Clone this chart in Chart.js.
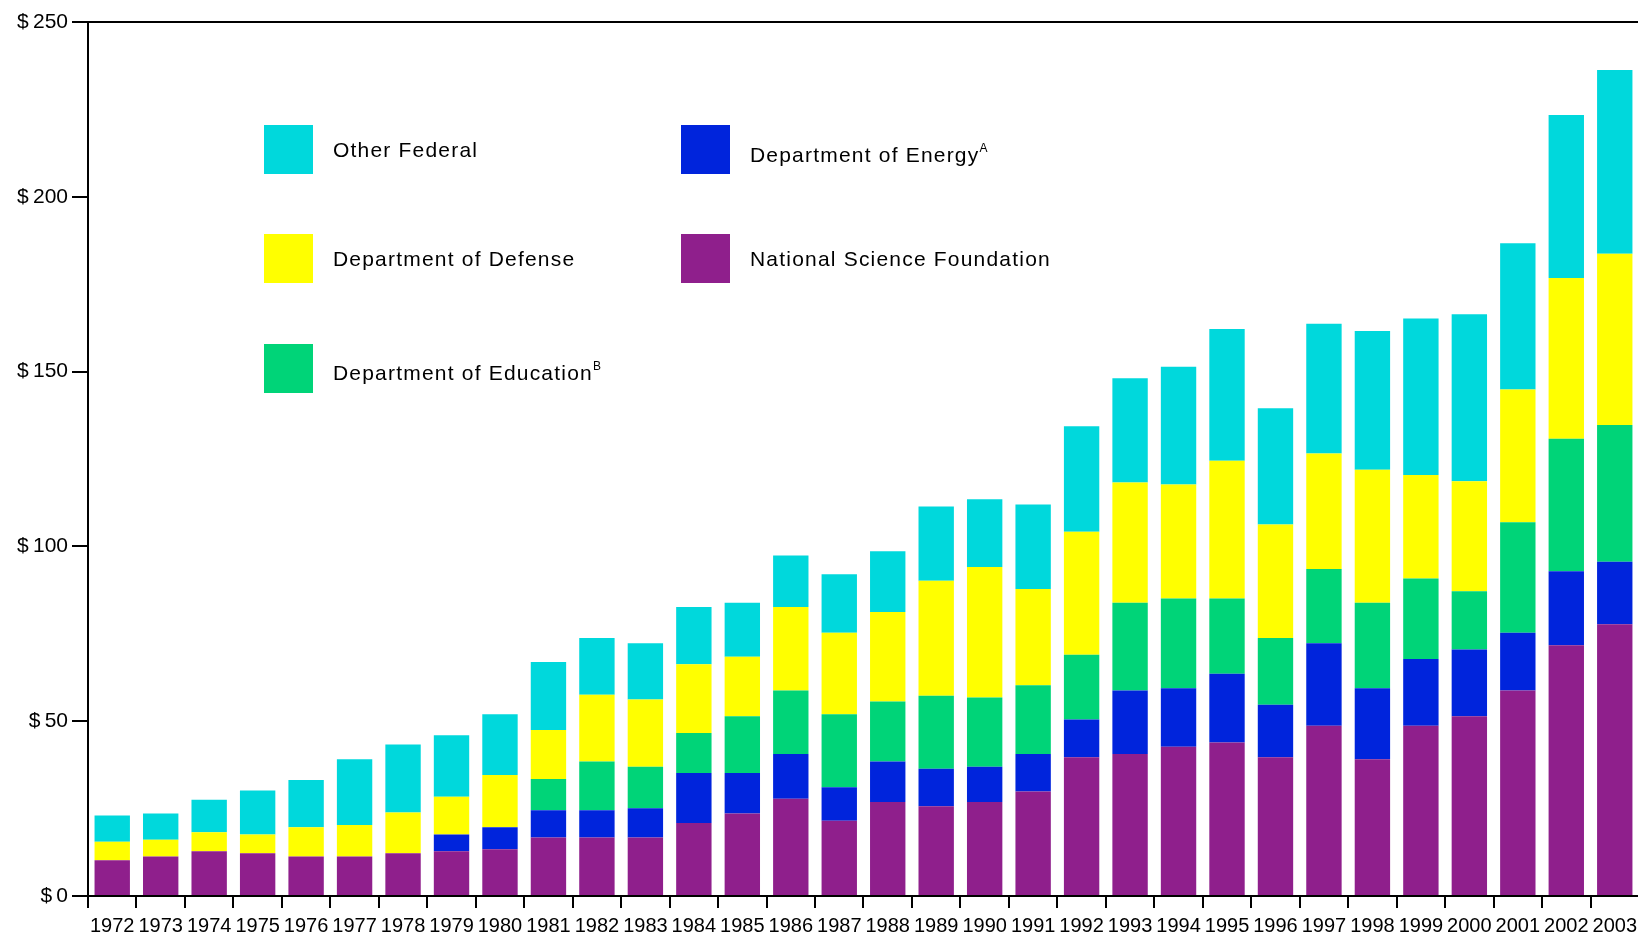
<!DOCTYPE html>
<html>
<head>
<meta charset="utf-8">
<script src="https://cdn.jsdelivr.net/npm/chart.js@4/dist/chart.umd.min.js"></script>
<style>
  html, body { margin: 0; padding: 0; background: #fff; overflow: hidden; }
  #wrap { position: relative; width: 1643px; height: 938px; }
  .item { position: absolute; height: 49px; display: flex; align-items: center;
          font-family: "Liberation Sans", Arial, sans-serif; font-size: 21px; letter-spacing: 1.2px; color: #000; }
  .box { width: 49px; height: 49px; margin-right: 20px; }
  .item sup { font-size: 12px; letter-spacing: 0; position: relative; top: -2px; }
</style>
</head>
<body>
<div id="wrap">
  <canvas id="chart" width="1643" height="938"></canvas>
</div>
<script>
// Năm (trục x)
const years = ["1972","1973","1974","1975","1976","1977","1978","1979","1980","1981",
    "1982","1983","1984","1985","1986","1987","1988","1989","1990","1991",
    "1992","1993","1994","1995","1996","1997","1998","1999","2000","2001","2002","2003"];

// Giá trị từng nguồn tài trợ (triệu $)
const nsf = [10.2, 11.3, 12.8, 12.2, 11.3, 11.3, 12.2, 12.8, 13.4, 16.7,
    16.7, 16.7, 20.9, 23.6, 27.8, 21.5, 26.9, 25.7, 26.9, 29.9,
    39.7, 40.6, 42.7, 43.9, 39.7, 48.7, 39.1, 48.7, 51.4, 58.8, 71.7, 77.7];
const energy = [0, 0, 0, 0, 0, 0, 0, 4.8, 6.3, 7.8,
    7.8, 8.4, 14.3, 11.6, 12.8, 9.6, 11.6, 10.7, 10.1, 10.7,
    10.8, 18.2, 16.7, 19.7, 15.0, 23.6, 20.3, 19.1, 19.1, 16.5, 21.2, 17.9];
const education = [0, 0, 0, 0, 0, 0, 0, 0, 0, 9.0,
    14.0, 11.9, 11.4, 16.2, 18.2, 20.9, 17.1, 20.9, 19.8, 19.7,
    18.5, 25.1, 25.7, 21.5, 19.1, 21.2, 24.5, 23.0, 16.7, 31.6, 37.9, 39.1];
const defense = [5.3, 4.8, 5.4, 5.4, 8.4, 9.0, 11.7, 10.8, 14.9, 14.0,
    19.1, 19.2, 19.7, 17.0, 23.9, 23.3, 25.6, 32.9, 37.3, 27.5,
    35.2, 34.4, 32.6, 39.4, 32.5, 33.1, 38.0, 29.6, 31.4, 38.0, 46.0, 49.0];
const otherFederal = [7.5, 7.5, 9.3, 12.6, 13.5, 18.8, 19.4, 17.6, 17.4, 19.4,
    16.2, 16.1, 16.4, 15.5, 14.7, 16.7, 17.4, 21.2, 19.4, 24.2,
    30.2, 29.8, 33.7, 37.7, 33.2, 37.1, 39.7, 44.8, 47.8, 41.8, 46.6, 52.6];

// Nhãn trục y
const yTicks = [0, 50, 100, 150, 200, 250];

const FONT = "'Liberation Sans', Arial, sans-serif";

const series = [
    { label: "National Science Foundation", sup: "", data: nsf, color: "#8f1f8c" },
    { label: "Department of Energy", sup: "A", data: energy, color: "#0024dc" },
    { label: "Department of Education", sup: "B", data: education, color: "#00d478" },
    { label: "Department of Defense", sup: "", data: defense, color: "#ffff00" },
    { label: "Other Federal", sup: "", data: otherFederal, color: "#00d8dc" }
];

const data = {
    labels: years,
    datasets: series.map(function(s) {
        return {
            label: s.label,
            data: s.data,
            backgroundColor: s.color,
            borderWidth: 0,
            categoryPercentage: 1.0,
            barPercentage: 0.73
        };
    })
};

const config = {
    type: 'bar',
    data: data,
    options: {
        responsive: false,
        animation: false,
        layout: { padding: { top: 22, right: 0, left: 0, bottom: 0 } },
        plugins: { legend: { display: false }, tooltip: { enabled: false } },
        scales: {
            x: {
                stacked: true,
                afterFit: function(scale) { scale.height = 42; },
                border: { display: true, color: '#000', width: 2 },
                grid: { offset: true, drawOnChartArea: false, tickLength: 12, tickColor: '#000', lineWidth: 2 },
                ticks: { color: '#000', autoSkip: false, maxRotation: 0, padding: 6,
                         font: { family: FONT, size: 20 } }
            },
            y: {
                stacked: true,
                min: 0, max: 250,
                afterFit: function(scale) { scale.width = 88; },
                afterBuildTicks: function(scale) {
                    scale.ticks = yTicks.map(function(v) { return { value: v }; });
                },
                border: { display: true, color: '#000', width: 2 },
                grid: {
                    drawOnChartArea: true,
                    color: function(ctx) { return ctx.tick && ctx.tick.value === 250 ? '#000' : 'rgba(0,0,0,0)'; },
                    lineWidth: 2,
                    tickLength: 16,
                    tickColor: '#000'
                },
                ticks: { color: '#000', padding: 4, font: { family: FONT, size: 21 },
                         callback: function(v) { return '$\u2009' + v; } }
            }
        }
    }
};

let context = document.getElementById("chart").getContext("2d");
new Chart(context, config);

// Chú thích (legend) tự vẽ bằng HTML
const legendPos = [
    { idx: 4, left: 264, top: 125, dy: 0 },
    { idx: 3, left: 264, top: 234, dy: 0 },
    { idx: 2, left: 264, top: 344, dy: 4 },
    { idx: 1, left: 681, top: 125, dy: 5 },
    { idx: 0, left: 681, top: 234, dy: 0 }
];
const wrap = document.getElementById("wrap");
legendPos.forEach(function(p) {
    let s = series[p.idx];
    let div = document.createElement("div");
    div.className = "item";
    div.style.left = p.left + "px";
    div.style.top = p.top + "px";
    div.innerHTML = '<div class="box" style="background:' + s.color + '"></div>' +
        '<span style="position:relative;top:' + p.dy + 'px">' + s.label +
        (s.sup ? '<sup>' + s.sup + '</sup>' : '') + '</span>';
    wrap.appendChild(div);
});
</script>
</body>
</html>
